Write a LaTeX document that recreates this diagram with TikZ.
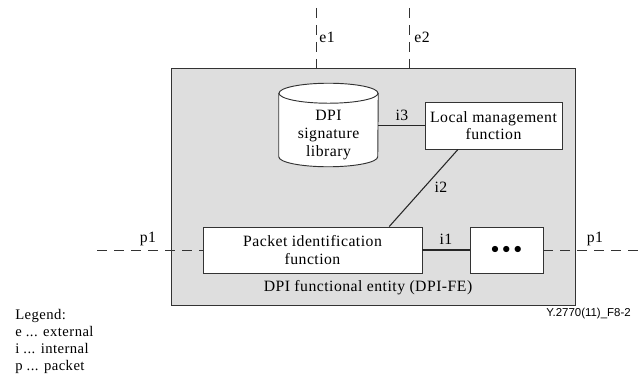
\documentclass[tikz,border=0pt]{standalone}
\usepackage{fontspec}
\setmainfont[LetterSpace=3]{Liberation Serif}
\setsansfont{Liberation Sans}
\definecolor{entitygrey}{HTML}{DEDEDE}
\definecolor{linegrey}{HTML}{333333}
\tikzset{
	funcbox/.style={draw=linegrey, fill=white, line width=0.7pt, inner sep=0, align=center},
	iface/.style={line width=0.8pt, draw=black!85},
	ref/.style={draw=linegrey, line width=0.7pt, dash pattern=on 7.5pt off 5.25pt},
	lbl/.style={inner sep=0},
	legendline/.style={inner sep=0, anchor=west, font=\fontsize{11}{13}\selectfont}
}
\begin{document}
\begin{tikzpicture}[x=0.75pt, y=-0.75pt, font=\fontsize{11.8}{13}\selectfont]
	\useasboundingbox (0, 0) rectangle (641, 381);

	% outer entity
	\node[draw=linegrey, fill=entitygrey, line width=0.7pt, inner sep=0, minimum width=303pt, minimum height=177.75pt] (entity) at (373, 186.5) {};

	% signature library drawn round its node
	\node[inner sep=0, minimum width=74.25pt, minimum height=47.25pt] (library) at (328.5, 125) {};
	\draw[draw=linegrey, fill=white, line width=0.7pt] (library.north west) -- (library.south west)
		arc[start angle=180, end angle=360, x radius=37.125pt, y radius=7.5pt] -- (library.north east);
	\draw[draw=linegrey, fill=white, line width=0.7pt] (library.north) ellipse [x radius=37.125pt, y radius=7.5pt];
	\node[lbl, align=center, font=\fontsize{11.8}{13.5}\selectfont] (librarytext) at (328.5, 135) {DPI\\signature\\library};

	% functions
	\node[funcbox, minimum width=102.75pt, minimum height=35.25pt] (localmgmt) at (493.5, 125.5) {Local management\\function};
	\node[funcbox, minimum width=164.25pt, minimum height=34.5pt] (packetid) at (312.5, 250) {Packet identification\\function};
	\node[funcbox, minimum width=54.75pt, minimum height=34.5pt, font=\fontsize{12}{12}\selectfont] (dots) at (506.5, 250) {$\bullet$\hspace{2.6pt}$\bullet$\hspace{2.6pt}$\bullet$};

	% internal links
	\draw[iface] (library.east |- localmgmt.west) -- (localmgmt.west);
	\draw[iface] (localmgmt.214.3) -- (packetid.17.6);
	\draw[iface] (packetid) -- (dots);
	\node[lbl] (i3) at (402, 115) {i3};
	\node[lbl] (i2) at (441, 187) {i2};
	\node[lbl] (i1) at (446, 239) {i1};

	% reference points
	\coordinate (e1end) at (316, 8);
	\coordinate (e2end) at (409, 8);
	\coordinate (p1left) at (97, 250);
	\coordinate (p1right) at (640, 250);
	\draw[ref] (e1end) -- (e1end |- entity.north);
	\draw[ref] (e2end) -- (e2end |- entity.north);
	\draw[ref] (p1left) -- (packetid.west);
	\draw[ref] (dots.east) -- (p1right);
	\node[lbl] (e1) at (327, 37) {e1};
	\node[lbl] (e2) at (422, 37) {e2};
	\node[lbl] (p1a) at (148, 239) {p1};
	\node[lbl] (p1b) at (595, 239) {p1};

	\node[lbl] (entityname) at (368, 288) {DPI functional entity (DPI-FE)};
	\node[inner sep=0, anchor=east, font=\sffamily\fontsize{8.6}{10}\selectfont] (figref) at (631, 314) {Y.2770(11)\_F8-2};

	% legend
	\node[legendline] (legend1) at (15, 316) {Legend:};
	\node[legendline] (legend2) at (15, 332) {e ... external};
	\node[legendline] (legend3) at (15, 349) {i ... internal};
	\node[legendline] (legend4) at (15, 367) {p ... packet};
\end{tikzpicture}
\end{document}
